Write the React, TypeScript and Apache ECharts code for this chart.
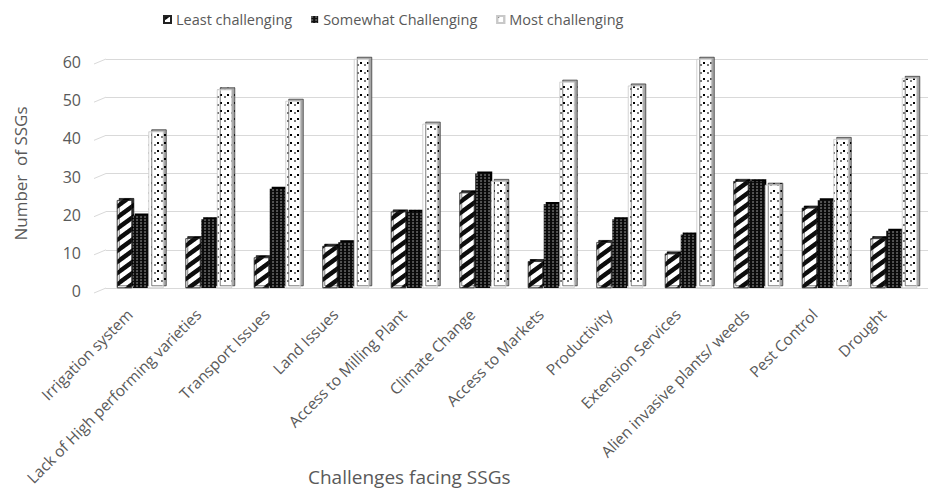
import React, { useEffect, useRef } from "react";
import * as echarts from "echarts";

const categories = [
  "Irrigation system",
  "Lack of High performing varieties",
  "Transport Issues",
  "Land Issues",
  "Access to Milling Plant",
  "Climate Change",
  "Access to Markets",
  "Productivity",
  "Extension Services",
  "Alien invasive plants/ weeds",
  "Pest Control",
  "Drought",
];
const leastChallenging = [23, 13, 8, 11, 20, 25, 7, 12, 9, 28, 21, 13];
const somewhatChallenging = [19, 18, 26, 12, 20, 30, 22, 18, 14, 28, 23, 15];
const mostChallenging = [41, 52, 49, 60, 43, 28, 54, 53, 60, 27, 39, 55];
const yTicks = [0, 10, 20, 30, 40, 50, 60];

const FONT = "'Open Sans', 'Liberation Sans', sans-serif";
const TXT = "#595959";
const GRID_LEFT = 106;

export default function App() {
  const ref = useRef<HTMLDivElement>(null);
  useEffect(() => {
    if (!ref.current) return;
    document.body.style.margin = "0";
    const chart = echarts.init(ref.current, undefined, { renderer: "svg" });
    chart.setOption({
      animation: false,
      aria: { enabled: true, decal: { show: true } },
      textStyle: { fontFamily: FONT },
      legend: {
        left: 158,
        top: 7,
        itemWidth: 7,
        itemHeight: 7,
        itemGap: 19,
        icon: "rect",
        textStyle: { color: TXT, fontSize: 14.5, fontFamily: FONT },
        data: ["Least challenging", "Somewhat Challenging", "Most challenging"],
      },
      grid: {
        left: GRID_LEFT,
        right: 0,
        top: 59,
        bottom: 205,
        containLabel: false,
        outerBoundsMode: "none",
      },
      xAxis: {
        type: "category",
        data: categories,
        axisLine: { lineStyle: { color: "#d9d9d9" } },
        axisTick: { show: false },
        axisLabel: {
          rotate: 45,
          interval: 0,
          color: TXT,
          fontSize: 15.5,
          fontFamily: FONT,
          margin: 13,
          padding: [0, 15, 0, 0],
        },
      },
      yAxis: {
        type: "value",
        min: yTicks[0],
        max: yTicks[yTicks.length - 1],
        interval: yTicks[1] - yTicks[0],
        name: "Number  of SSGs",
        nameLocation: "middle",
        nameGap: 77,
        nameTextStyle: { color: TXT, fontSize: 17, fontFamily: FONT },
        axisLabel: {
          color: TXT,
          fontSize: 16,
          margin: 25,
          fontFamily: FONT,
          verticalAlign: "top",
          lineHeight: 6,
        },
        splitLine: { lineStyle: { color: "#d9d9d9" } },
        axisLine: { show: false },
      },
      series: [
        {
          name: "Least challenging",
          type: "bar",
          data: leastChallenging,
          barWidth: 15,
          barGap: "5%",
          itemStyle: {
            color: "#ffffff",
            borderColor: "#222",
            borderWidth: 0.5,
            shadowColor: "#333",
            shadowOffsetX: 2,
            shadowOffsetY: -2,
            decal: {
              symbol: "rect",
              symbolSize: 1,
              color: "#111",
              dashArrayX: [1, 0],
              dashArrayY: [4, 5],
              rotation: -Math.PI / 5,
            },
          },
        },
        {
          name: "Somewhat Challenging",
          type: "bar",
          data: somewhatChallenging,
          barWidth: 15,
          itemStyle: {
            color: "#111",
            shadowColor: "#000",
            shadowOffsetX: 2,
            shadowOffsetY: -2,
            decal: {
              symbol: "circle",
              symbolSize: 0.7,
              color: "rgba(255,255,255,0.7)",
              dashArrayX: [2, 2],
              dashArrayY: [2, 1],
              rotation: 0,
            },
          },
        },
        {
          name: "Most challenging",
          type: "bar",
          data: mostChallenging,
          barWidth: 15,
          itemStyle: {
            color: "#ffffff",
            borderColor: "#c8c8c8",
            borderWidth: 0.5,
            shadowColor: "#a6a6a6",
            shadowOffsetX: 3,
            shadowOffsetY: -2,
            decal: {
              symbol: "rect",
              symbolSize: 1,
              color: "#777",
              dashArrayX: [2, 5],
              dashArrayY: [2, 6],
              rotation: 0,
            },
          },
        },
      ],
    });
    const stubs = yTicks.map((v) => {
      const y = chart.convertToPixel({ yAxisIndex: 0 }, v) as number;
      return {
        type: "line",
        shape: { x1: GRID_LEFT - 12, y1: y + 5, x2: GRID_LEFT, y2: y },
        style: { stroke: "#d9d9d9", lineWidth: 1 },
        silent: true,
      };
    });
    chart.setOption({
      graphic: [
        ...stubs,
        {
          type: "text",
          left: 308,
          top: 467,
          style: {
            text: "Challenges facing SSGs",
            fill: TXT,
            font: `19px ${FONT}`,
          },
        },
      ],
    });
    return () => chart.dispose();
  }, []);
  return <div ref={ref} style={{ width: 928, height: 493 }} />;
}
